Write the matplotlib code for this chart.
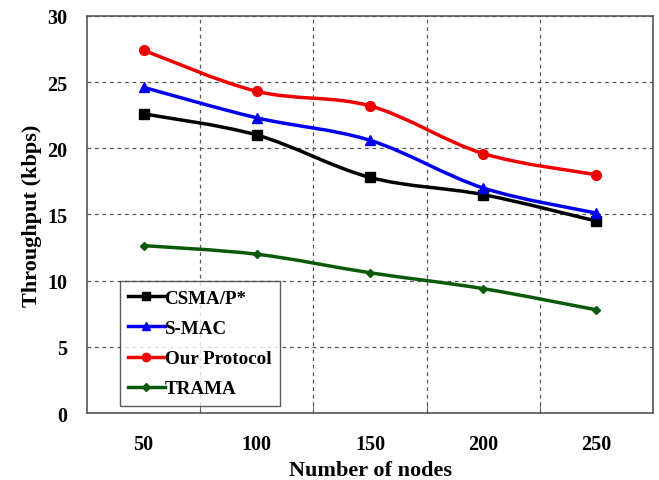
import numpy as np
import matplotlib
matplotlib.use("Agg")
import matplotlib.pyplot as plt
from matplotlib.path import Path
from matplotlib.patches import PathPatch
from matplotlib.lines import Line2D

categories = ["50", "100", "150", "200", "250"]
csma = [22.6, 21.0, 17.8, 16.5, 14.5]
smac = [24.6, 22.3, 20.6, 17.0, 15.1]
ours = [27.4, 24.3, 23.2, 19.6, 18.0]
trama = [12.65, 12.0, 10.6, 9.4, 7.8]

series = [
    ("CSMA/P*", csma, "#000000", "s", 7),
    ("S-MAC", smac, "#0000ee", "^", 7),
    ("Our Protocol", ours, "#ee0000", "o", 7),
    ("TRAMA", trama, "#0b5a0b", "D", 4.5),
]

plt.rcParams["font.family"] = ["Liberation Serif", "DejaVu Serif"]
plt.rcParams["font.weight"] = "bold"

fig = plt.figure(figsize=(6.59, 4.81), dpi=100)
ax = fig.add_axes([0.132, 0.139, 0.859, 0.826])


def smooth_path(xs, ys, tension=1.0 / 6.0):
    # Catmull-Rom curve through the points, expressed as cubic Bezier segments
    pts = np.column_stack([xs, ys]).astype(float)
    n = len(pts)
    verts = [pts[0]]
    codes = [Path.MOVETO]
    for i in range(n - 1):
        p0 = pts[i - 1] if i > 0 else pts[i]
        p1 = pts[i]
        p2 = pts[i + 1]
        p3 = pts[i + 2] if i + 2 < n else pts[i + 1]
        c1 = p1 + (p2 - p0) * tension
        c2 = p2 - (p3 - p1) * tension
        verts += [c1, c2, p2]
        codes += [Path.CURVE4] * 3
    return Path(verts, codes)


x = np.arange(len(categories))
handles = []
for name, vals, color, marker, ms in series:
    ax.add_patch(PathPatch(smooth_path(x, vals), facecolor="none",
                           edgecolor=color, lw=2.5, zorder=3))
    ax.plot(x, vals, linestyle="none", marker=marker, markersize=ms,
            color=color, zorder=4)
    handles.append(Line2D([], [], color=color, lw=2.5, marker=marker,
                          markersize=ms * 0.85, label=name))

ax.set_xlim(-0.5, len(categories) - 0.5)
ax.set_ylim(0, 30)
ax.set_yticks(np.arange(0, 31, 5))
ax.set_xticks(x)
ax.set_xticklabels(categories)
ax.set_xticks(np.arange(0.5, len(categories) - 0.5, 1.0), minor=True)

ax.tick_params(axis="x", which="major", length=0, pad=15, labelsize=14.5)
ax.tick_params(axis="x", which="minor", direction="in", length=6,
               color="#555555")
ax.tick_params(axis="y", which="major", length=0, pad=14, labelsize=14.5)

ax.grid(True, which="minor", axis="x", linestyle=(0, (3, 3)),
        color="#555555", lw=0.9)
ax.grid(True, which="major", axis="y", linestyle=(0, (3, 3)),
        color="#555555", lw=0.9)
ax.set_axisbelow(True)

for sp in ax.spines.values():
    sp.set_color("#555555")
    sp.set_linewidth(1.2)

ax.set_xlabel("Number of nodes", fontsize=16, fontweight="bold", labelpad=4)
ax.set_ylabel("Throughput (kbps)", fontsize=16, fontweight="bold", labelpad=4)

leg = ax.legend(handles=handles, loc="lower left",
                bbox_to_anchor=(0.058, 0.018), fontsize=13.7,
                frameon=True, fancybox=False, handlelength=1.9,
                handletextpad=0.0, borderpad=0.45, labelspacing=0.68,
                borderaxespad=0.0)
leg.get_frame().set_edgecolor("#333333")
leg.get_frame().set_linewidth(1.0)

fig.savefig("out.png", dpi=100)
